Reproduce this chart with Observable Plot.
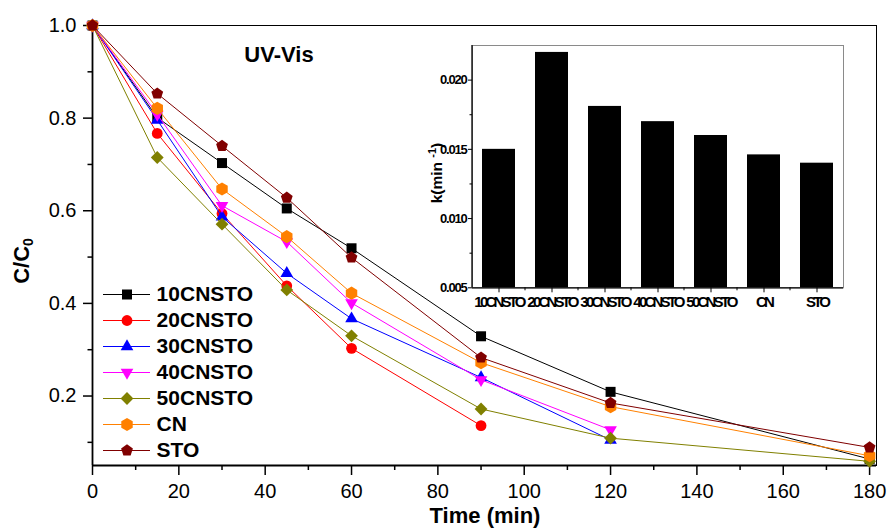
<!DOCTYPE html>
<html><head><meta charset="utf-8">
<script src="https://cdn.jsdelivr.net/npm/d3@7"></script>
<script src="https://cdn.jsdelivr.net/npm/@observablehq/plot@0.6"></script>
<style>
html,body{margin:0;padding:0;background:#fff;}
#wrap{position:relative;width:888px;height:529px;overflow:hidden;font-family:Arial,"Liberation Sans",sans-serif;background:#fff;}
#wrap > div{position:absolute;}
#inset svg g[aria-label="y-axis tick label"] text{letter-spacing:-1.2px;}
#inset svg g[aria-label="x-axis tick label"]{font-size:15px;}
#inset svg g[aria-label="x-axis tick label"] text{letter-spacing:-2.8px;}
</style></head>
<body>
<div id="wrap">
  <div id="main" style="left:0;top:0"></div>
  <div id="inset" style="left:410px;top:35px"></div>
  <div id="legend" style="left:100px;top:280px"></div>
</div>
<script>
// ---------- data ----------
const times = [0, 15, 30, 45, 60, 90, 120, 180];
const seriesNames = ["10CNSTO", "20CNSTO", "30CNSTO", "40CNSTO", "50CNSTO", "CN", "STO"];
const seriesColors = ["#000000", "#ff0000", "#0000ff", "#ff00ff", "#808000", "#ff8000", "#800000"];
const c10CNSTO = [1.0, 0.801, 0.703, 0.605, 0.519, 0.329, 0.209, 0.064];
const c20CNSTO = [1.0, 0.767, 0.594, 0.438, 0.303, 0.136];
const c30CNSTO = [1.0, 0.796, 0.587, 0.465, 0.367, 0.240, 0.105];
const c40CNSTO = [1.0, 0.808, 0.611, 0.533, 0.401, 0.235, 0.127];
const c50CNSTO = [1.0, 0.715, 0.571, 0.429, 0.330, 0.172, 0.109, 0.059];
const cCN      = [1.0, 0.821, 0.647, 0.544, 0.422, 0.272, 0.177, 0.071];
const cSTO     = [1.0, 0.853, 0.740, 0.628, 0.499, 0.283, 0.185, 0.089];
const seriesValues = [c10CNSTO, c20CNSTO, c30CNSTO, c40CNSTO, c50CNSTO, cCN, cSTO];

const xTicks = [0, 20, 40, 60, 80, 100, 120, 140, 160, 180];
const xMinor = [10, 30, 50, 70, 90, 110, 130, 150, 170];
const yTicks = [0.2, 0.4, 0.6, 0.8, 1.0];
const yMinor = [0.1, 0.3, 0.5, 0.7, 0.9];
const xDomain = [0, 181.6];
const yDomain = [0.05, 1.0];

const kCategories = ["10CNSTO", "20CNSTO", "30CNSTO", "40CNSTO", "50CNSTO", "CN", "STO"];
const kValues = [0.0150, 0.0220, 0.0181, 0.0170, 0.0160, 0.0146, 0.0140];
const kTicks = [0.005, 0.010, 0.015, 0.020];
const kMinor = [0.0075, 0.0125, 0.0175];
const kDomain = [0.005, 0.0225];

// ---------- symbols ----------
function polygon(n, rot) {
  return {draw(ctx, size) {
    const R = Math.sqrt(size / Math.PI);
    for (let i = 0; i < n; i++) {
      const a = rot + i * 2 * Math.PI / n;
      const px = R * Math.cos(a), py = R * Math.sin(a);
      if (i === 0) ctx.moveTo(px, py); else ctx.lineTo(px, py);
    }
    ctx.closePath();
  }};
}
const symSquare = {draw(ctx, size) { const h = Math.sqrt(size / Math.PI); ctx.rect(-h, -h, 2 * h, 2 * h); }};
const symbols = [symSquare, "circle", polygon(3, -Math.PI / 2), polygon(3, Math.PI / 2),
                 polygon(4, -Math.PI / 2), polygon(6, -Math.PI / 2), polygon(5, -Math.PI / 2)];
const symbolSizes = [5, 5.4, 7.3, 7.3, 6.4, 6.6, 6.2];

// ---------- main chart ----------
const rows = [];
seriesNames.forEach((n, i) => seriesValues[i].forEach((c, j) => rows.push({series: n, t: times[j], c})));

const mainMarks = [
  Plot.frame({stroke: "#000", strokeWidth: 1}),
  Plot.ruleX([xDomain[0]], {strokeWidth: 1.8}),
  Plot.ruleY([yDomain[0]], {strokeWidth: 1.8}),
  Plot.axisX(xTicks, {tickSize: 10, tickPadding: 8, strokeWidth: 1.5, label: null, tickFormat: d => String(d)}),
  Plot.axisX(xMinor, {tickSize: 5, strokeWidth: 1.5, label: null, tickFormat: () => ""}),
  Plot.axisY(yTicks, {tickSize: 9, tickPadding: 7, strokeWidth: 1.5, label: null, tickFormat: d3.format(".1f")}),
  Plot.axisY(yMinor, {tickSize: 4.5, strokeWidth: 1.5, label: null, tickFormat: () => ""})
];
seriesNames.forEach((n, i) => {
  const d = rows.filter(r => r.series === n);
  mainMarks.push(Plot.line(d, {x: "t", y: "c", stroke: seriesColors[i], strokeWidth: 1}));
  mainMarks.push(Plot.dot(d, {x: "t", y: "c", fill: seriesColors[i], symbol: symbols[i], r: symbolSizes[i]}));
});

const main = Plot.plot({
  width: 888, height: 529,
  marginLeft: 92, marginRight: 12, marginTop: 25, marginBottom: 64,
  x: {domain: xDomain},
  y: {domain: yDomain},
  style: {fontFamily: "Arial, 'Liberation Sans', sans-serif", fontSize: "20px", background: "transparent", overflow: "visible", color: "#000"},
  marks: mainMarks
});
document.getElementById("main").appendChild(main);

const msvg = d3.select(main);
msvg.append("text").attr("x", 485).attr("y", 523).attr("text-anchor", "middle")
  .attr("font-size", 22).attr("font-weight", "bold").attr("fill", "#000").text("Time (min)");
const yl = msvg.append("text").attr("transform", "translate(29,261) rotate(-90)").attr("text-anchor", "middle")
  .attr("font-size", 22).attr("font-weight", "bold").attr("fill", "#000");
yl.append("tspan").text("C/C");
yl.append("tspan").attr("font-size", 14).attr("dy", "0.3em").text("0");
msvg.append("text").attr("x", 279).attr("y", 62).attr("text-anchor", "middle")
  .attr("font-size", 22).attr("font-weight", "bold").attr("fill", "#000").text("UV-Vis");

// ---------- inset ----------
const kData = kCategories.map((cat, i) => ({cat, k: kValues[i]}));
const inset = Plot.plot({
  width: 440, height: 280,
  marginLeft: 62, marginRight: 7, marginTop: 10, marginBottom: 27.7,
  x: {type: "band", domain: kCategories, paddingInner: 0.38, paddingOuter: 0.19},
  y: {domain: kDomain},
  style: {fontFamily: "Arial, 'Liberation Sans', sans-serif", fontWeight: "bold", fontSize: "13px", background: "transparent", overflow: "visible", color: "#000"},
  marks: [
    Plot.frame({stroke: "#8a8a8a", strokeWidth: 1}),
    Plot.barY(kData, {x: "cat", y1: kDomain[0], y2: "k", fill: "#000"}),
    Plot.ruleY([kDomain[0]], {strokeWidth: 1.3}),
    Plot.axisY(kTicks, {tickSize: 4, tickPadding: 2, strokeWidth: 1, label: null, tickFormat: d3.format(".3f")}),
    Plot.axisY(kMinor, {tickSize: 2.5, strokeWidth: 1, label: null, tickFormat: () => ""}),
    Plot.axisX({tickSize: 5, tickPadding: 4, strokeWidth: 1, label: null})
  ]
});
document.getElementById("inset").appendChild(inset);
const isvg = d3.select(inset);
const sx = inset.scale("x"), sy = inset.scale("y");
const xr = sx.range, yr = sy.range;
isvg.append("line").attr("x1", xr[0]).attr("x2", xr[0]).attr("y1", yr[0]).attr("y2", yr[1])
  .attr("stroke", "#000").attr("stroke-width", 1.3);
// minor ticks between categories
kCategories.slice(1).forEach(c => {
  const xm = sx.apply(c) - (sx.step - sx.bandwidth) / 2;
  isvg.append("line").attr("x1", xm).attr("x2", xm).attr("y1", yr[0]).attr("y2", yr[0] + 3)
    .attr("stroke", "#000").attr("stroke-width", 1);
});
const kl = isvg.append("text").attr("transform", "translate(32,138) rotate(-90)").attr("text-anchor", "middle")
  .attr("font-size", 15.5).attr("font-weight", "bold").attr("fill", "#000");
kl.append("tspan").text("k(min ");
kl.append("tspan").attr("font-size", 11).attr("dy", "-0.55em").text("-1");
kl.append("tspan").attr("dy", "0.4em").text(")");

// ---------- legend ----------
const legendMarks = [];
seriesNames.forEach((n, i) => {
  legendMarks.push(Plot.ruleY([n], {x1: 0, x2: 1, stroke: seriesColors[i], strokeWidth: 1}));
  legendMarks.push(Plot.dot([n], {x: 0.5, y: d => d, fill: seriesColors[i], symbol: symbols[i], r: symbolSizes[i]}));
  legendMarks.push(Plot.text([n], {x: 1.13, y: d => d, text: d => d, textAnchor: "start", fontWeight: "bold", fontSize: 21, fill: "#000"}));
});
const legend = Plot.plot({
  width: 200, height: 184,
  marginLeft: 0, marginRight: 0, marginTop: 0, marginBottom: 0,
  x: {domain: [0, 1], range: [3, 50], axis: null},
  y: {type: "point", domain: seriesNames, range: [13.3, 170], padding: 0, axis: null},
  style: {fontFamily: "Arial, 'Liberation Sans', sans-serif", background: "transparent", overflow: "visible", color: "#000"},
  marks: legendMarks
});
document.getElementById("legend").appendChild(legend);
</script>
</body></html>
